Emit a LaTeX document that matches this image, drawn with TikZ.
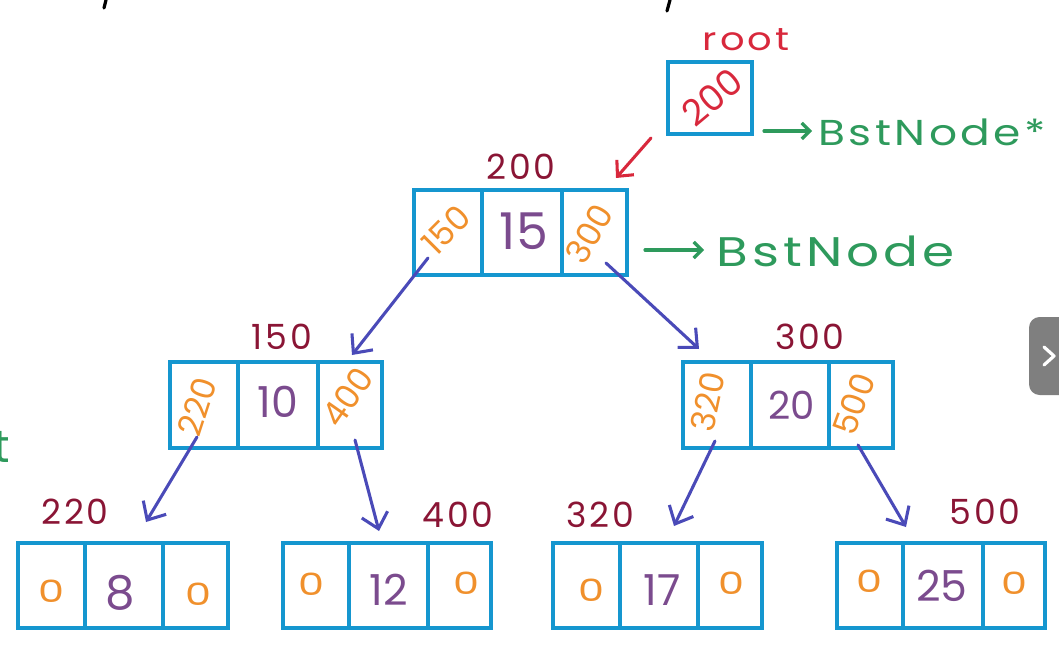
\documentclass[tikz,border=0pt]{standalone}
\usepackage{fontspec}
\setmainfont{Poppins}
\newfontfamily\hand[LetterSpace=8]{Poppins}
\usetikzlibrary{arrows.meta,fit}

\definecolor{boxblue}{HTML}{1596CF}
\definecolor{ptrorange}{HTML}{F0902C}
\definecolor{valpurple}{HTML}{7B4B8E}
\definecolor{addrred}{HTML}{8A1535}
\definecolor{rootred}{HTML}{D8283C}
\definecolor{typegreen}{HTML}{2E9A5C}
\definecolor{linkblue}{HTML}{4A4AB8}
\definecolor{btngray}{HTML}{7F7F7F}

% one record of three cells: name, x-left, divider 1, divider 2, x-right, y-top, y-bottom
\newcommand\record[7]{%
  \node[cellbox, fit={(#2,#6) (#3,#7)}] (#1a) {};
  \node[cellbox, fit={(#3,#6) (#4,#7)}] (#1b) {};
  \node[cellbox, fit={(#4,#6) (#5,#7)}] (#1c) {};
}
\newcommand\zero{\scalebox{1.35}[1]{0}}

\begin{document}
\begin{tikzpicture}[x=0.75pt,y=-0.75pt,
  cellbox/.style={draw=boxblue, line width=2.6pt, inner sep=0pt},
  val/.style={text=valpurple, inner sep=0pt, font=\fontsize{32}{32}\selectfont},
  ptr/.style={text=ptrorange, inner sep=0pt, font=\fontsize{25}{25}\selectfont},
  nul/.style={text=ptrorange, inner sep=0pt, font=\fontsize{23}{23}\selectfont},
  addr/.style={text=addrred, inner sep=0pt, font=\hand\fontsize{26}{26}\selectfont},
  typelbl/.style={text=typegreen, inner sep=0pt, anchor=west},
  link/.style={draw=linkblue, line width=2.3pt, line cap=round,
    -{Straight Barb[length=11pt,width=20pt,line width=2.3pt]}},
  typearrow/.style={draw=typegreen, line width=2.4pt, line cap=round,
    -{Straight Barb[length=6pt,width=12pt,line width=2.4pt]}},
]
\useasboundingbox (0,0) rectangle (1059,652);

% ---- root pointer ----
\node[cellbox, fit={(668,62) (752,134)}] (root) {};
\node[text=rootred, inner sep=0pt, font=\hand\fontsize{24}{24}\selectfont]
  (rootlbl) at (746,40) {\scalebox{1.2}[1]{root}};
\node[text=rootred, inner sep=0pt, rotate=40, font=\fontsize{27}{27}\selectfont]
  (rootval) at (712,97) {200};

% ---- records ----
\record{n200}{414}{482}{562}{627}{190}{275}
\record{n150}{170}{238}{318}{382}{362}{448}
\record{n300}{683}{751}{829}{893}{362}{448}
\record{n220}{18}{85}{163}{228}{543}{628}
\record{n400}{283}{349}{428}{491}{543}{628}
\record{n320}{553}{620}{698}{762}{543}{628}
\record{n500}{837}{903}{983}{1045}{543}{628}

% ---- addresses above records ----
\node[addr] (a200) at (521,167) {200};
\node[addr] (a150) at (282,337) {150};
\node[addr] (a300) at (810,337) {300};
\node[addr] (a220) at (75,512) {220};
\node[addr] (a400) at (458,515) {400};
\node[addr] (a320) at (600,515) {320};
\node[addr] (a500) at (985,512) {500};

% ---- field contents ----
\node[ptr, rotate=45] (p200l) at (446,230) {150};
\node[val, font=\fontsize{38}{38}\selectfont] (v200) at (524,231) {15};
\node[ptr, rotate=60] (p200r) at (589,234) {300};

\node[ptr, rotate=72] (p150l) at (197,407) {220};
\node[val] (v150) at (278,402) {10};
\node[ptr, rotate=55] (p150r) at (347,397) {400};

\node[ptr, rotate=78] (p300l) at (708,402) {320};
\node[val, font=\fontsize{29}{29}\selectfont] (v300) at (792,405) {20};
\node[ptr, rotate=70] (p300r) at (854,404) {500};

\node[nul] (z220l) at (51,591) {\zero};
\node[val, font=\fontsize{35}{35}\selectfont] (v220) at (120,593) {8};
\node[nul] (z220r) at (198,594) {\zero};

\node[nul] (z400l) at (311,584) {\zero};
\node[val] (v400) at (389,590) {12};
\node[nul] (z400r) at (466,583) {\zero};

\node[nul] (z320l) at (591,590) {\zero};
\node[val] (v320) at (662,590) {17};
\node[nul] (z320r) at (731,583) {\zero};

\node[nul] (z500l) at (869,581) {\zero};
\node[val] (v500) at (942,586) {25};
\node[nul] (z500r) at (1014,583) {\zero};

% ---- type annotations ----
\coordinate (t1s) at (764,131);
\coordinate (t1e) at (812,131);
\draw[typearrow] (t1s) -- (t1e);
\node[typelbl, font=\hand\fontsize{27}{27}\selectfont] (ptrtype) at (818,132)
  {\scalebox{1.22}[1]{BstNode*}};

\coordinate (t2s) at (645,250);
\coordinate (t2e) at (704,250);
\draw[typearrow] (t2s) -- (t2e);
\node[typelbl, font=\hand\fontsize{31}{31}\selectfont] (nodetype) at (716,251)
  {\scalebox{1.25}[1]{BstNode}};

% ---- root points at record 200 ----
\coordinate (rs) at (651,138);
\coordinate (re) at (616,178);
\draw[draw=rootred, line width=2.3pt, line cap=round,
  -{Straight Barb[length=9pt,width=17pt,line width=2.3pt]}] (rs) -- (re);

% ---- child links ----
\coordinate (l1s) at (428,258);  \coordinate (l1e) at (352,355);
\coordinate (l2s) at (606,263);  \coordinate (l2e) at (699,349);
\coordinate (l3s) at (197,437);  \coordinate (l3e) at (146,522);
\coordinate (l4s) at (355,440);  \coordinate (l4e) at (379,531);
\coordinate (l5s) at (715,441);  \coordinate (l5e) at (674,526);
\coordinate (l6s) at (858,445);  \coordinate (l6e) at (906,527);
\draw[link] (l1s) -- (l1e);
\draw[link] (l2s) -- (l2e);
\draw[link] (l3s) -- (l3e);
\draw[link] (l4s) -- (l4e);
\draw[link] (l5s) -- (l5e);
\draw[link] (l6s) -- (l6e);

% ---- fragments at the edges ----
\draw[black, line width=2.4pt, line cap=round] (106,0) -- (104,8);
\draw[black, line width=2.4pt, line cap=round] (670,0) -- (667,11);
\node[text=typegreen, inner sep=0pt, font=\fontsize{34}{34}\selectfont] (edget) at (2,447) {t};

% ---- side button ----
\fill[btngray, rounded corners=8pt] (1029,317) rectangle (1075,395);
\draw[white, line width=2.4pt, line cap=round, line join=round]
  (1044,347) -- (1054,356) -- (1044,365);
\end{tikzpicture}
\end{document}
